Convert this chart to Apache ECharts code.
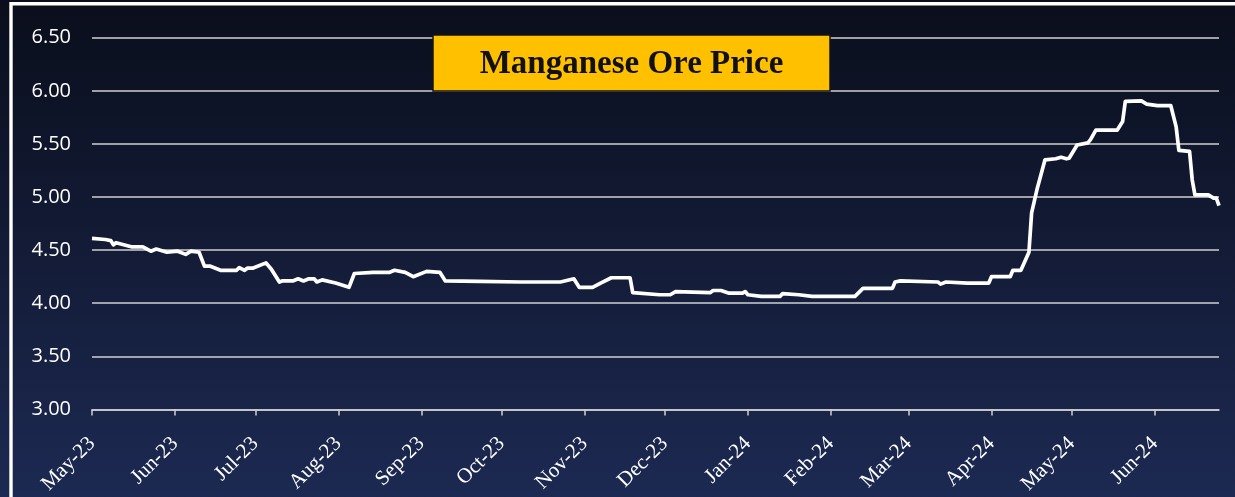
<!DOCTYPE html>
<html><head><meta charset="utf-8">
<script src="https://cdn.jsdelivr.net/npm/echarts@6/dist/echarts.min.js"></script>
<style>html,body{margin:0;padding:0;background:#0b0f1e}#c{width:1235px;height:497px}</style>
</head><body><div id="c"></div>
<script>
const chartTitle = 'Manganese Ore Price';
const monthNames = ['Jan','Feb','Mar','Apr','May','Jun','Jul','Aug','Sep','Oct','Nov','Dec'];
const axisStart = '2023-05-01';
const axisEnd = '2024-06-25';
const yMin = 3.0, yMax = 6.5, yStep = 0.5;

const dates = [
 '2023-05-01','2023-05-06','2023-05-08','2023-05-09','2023-05-10','2023-05-16','2023-05-20','2023-05-23','2023-05-25','2023-05-29',
 '2023-06-02','2023-06-05','2023-06-07','2023-06-10','2023-06-12','2023-06-14','2023-06-18','2023-06-24','2023-06-25','2023-06-27',
 '2023-06-28','2023-06-30','2023-07-05','2023-07-07','2023-07-10','2023-07-11','2023-07-15','2023-07-17','2023-07-19','2023-07-21',
 '2023-07-23','2023-07-24','2023-07-26','2023-07-31','2023-08-05','2023-08-07','2023-08-14','2023-08-20','2023-08-22','2023-08-26',
 '2023-08-29','2023-09-03','2023-09-08','2023-09-10','2023-09-23','2023-10-08','2023-10-23','2023-10-28','2023-10-30','2023-11-04',
 '2023-11-07','2023-11-11','2023-11-18','2023-11-19','2023-11-29','2023-12-03','2023-12-05','2023-12-18','2023-12-19','2023-12-22',
 '2023-12-25','2023-12-30','2023-12-31','2024-01-01','2024-01-06','2024-01-13','2024-01-14','2024-01-20','2024-01-25','2024-02-10',
 '2024-02-13','2024-02-24','2024-02-25','2024-02-27','2024-03-12','2024-03-13','2024-03-15','2024-03-23','2024-03-31','2024-04-01',
 '2024-04-08','2024-04-09','2024-04-12','2024-04-15','2024-04-16','2024-04-18','2024-04-21','2024-04-25','2024-04-27','2024-04-29',
 '2024-04-30','2024-05-03','2024-05-07','2024-05-08','2024-05-10','2024-05-18','2024-05-20','2024-05-21','2024-05-27','2024-05-29',
 '2024-06-02','2024-06-07','2024-06-09','2024-06-10','2024-06-14','2024-06-15','2024-06-16','2024-06-21','2024-06-23','2024-06-24',
 '2024-06-25'
];
const prices = [
 4.61,4.60,4.59,4.55,4.57,4.53,4.53,4.49,4.51,4.48,
 4.49,4.46,4.49,4.48,4.35,4.35,4.31,4.31,4.335,4.31,
 4.33,4.33,4.38,4.32,4.20,4.21,4.21,4.23,4.21,4.23,
 4.23,4.20,4.22,4.19,4.15,4.28,4.29,4.29,4.31,4.29,
 4.25,4.30,4.29,4.21,4.205,4.20,4.20,4.23,4.15,4.15,
 4.19,4.24,4.24,4.10,4.08,4.08,4.11,4.10,4.12,4.12,
 4.095,4.095,4.11,4.08,4.065,4.065,4.09,4.08,4.065,4.065,
 4.14,4.14,4.20,4.21,4.20,4.18,4.20,4.19,4.19,4.25,
 4.25,4.31,4.31,4.48,4.85,5.07,5.35,5.36,5.375,5.36,
 5.365,5.49,5.51,5.54,5.63,5.63,5.71,5.90,5.905,5.875,
 5.86,5.86,5.66,5.44,5.43,5.16,5.02,5.02,4.99,4.99,
 4.92
];

const chart = echarts.init(document.getElementById('c'), null, {renderer: 'canvas'});
const DAY = 86400000;
chart.setOption({
  animation: false,
  backgroundColor: new echarts.graphic.LinearGradient(0, 0, 0, 1, [
    {offset: 0, color: '#0a0e1c'},
    {offset: 0.5, color: '#131b36'},
    {offset: 1, color: '#1c2952'}
  ]),
  grid: {left: 92, right: 16, top: 37.7, bottom: 86, containLabel: false},
  xAxis: {
    type: 'time',
    min: axisStart,
    max: axisEnd,
    splitNumber: 14,
    minInterval: 28 * DAY,
    maxInterval: 31 * DAY,
    axisLine: {show: true, lineStyle: {color: '#d0d0d0', width: 1.5}},
    axisTick: {show: true, length: 6, lineStyle: {color: '#d0d0d0', width: 1.5}},
    splitLine: {show: false},
    axisLabel: {
      rotate: 45,
      color: '#ffffff',
      fontFamily: 'Liberation Serif',
      fontSize: 21,
      fontWeight: 'normal',
      margin: 31,
      hideOverlap: false,
      formatter: function (val) {
        const d = new Date(val);
        return monthNames[d.getMonth()] + '-' + String(d.getFullYear()).slice(2);
      }
    }
  },
  yAxis: {
    type: 'value',
    min: yMin, max: yMax, interval: yStep,
    axisLine: {show: false},
    axisTick: {show: false},
    axisLabel: {
      color: '#ffffff', fontFamily: 'Open Sans', fontSize: 20, margin: 21,
      formatter: v => v.toFixed(2)
    },
    splitLine: {show: true, lineStyle: {color: '#d0d0d0', width: 1.5}}
  },
  series: [{
    type: 'line',
    data: dates.map((d, i) => [d, prices[i]]),
    showSymbol: false,
    symbol: 'none',
    lineStyle: {color: '#ffffff', width: 3.7, join: 'round'},
    z: 5
  }],
  graphic: [
    {type: 'polyline', z: 100, silent: true,
     shape: {points: [[11, 497], [11, 3.8], [1235, 3.8]]},
     style: {stroke: '#ffffff', lineWidth: 3.4, fill: null}},
    {type: 'rect', z: 100, silent: true,
     shape: {x: 433, y: 35, width: 397, height: 56},
     style: {fill: '#FFC000', stroke: '#151515', lineWidth: 1.5}},
    {type: 'text', z: 101, silent: true,
     x: 631.5, y: 64,
     style: {text: chartTitle, fill: '#111111', font: 'bold 33px "Liberation Serif"',
             align: 'center', verticalAlign: 'middle'}}
  ]
});
</script>
</body></html>
